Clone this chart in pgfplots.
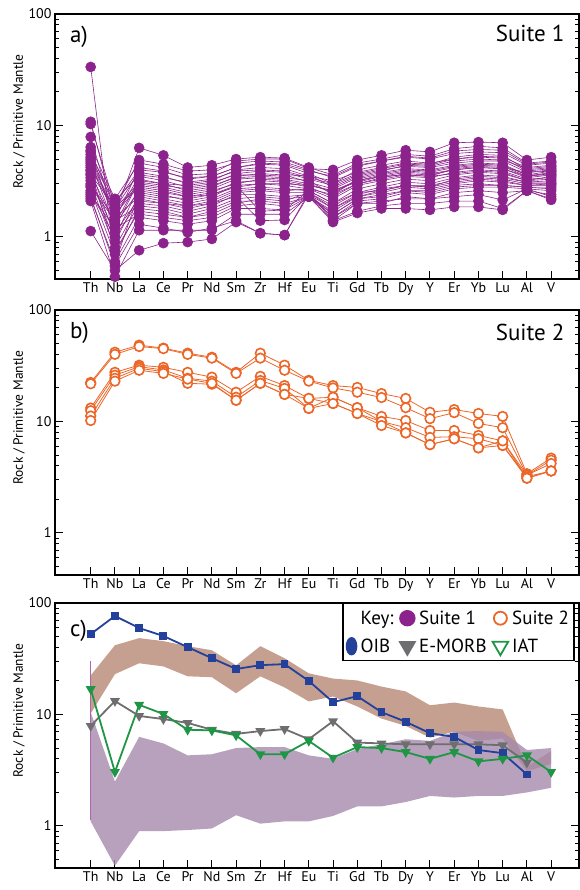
\documentclass[border=0pt]{standalone}
\usepackage{fontspec}
\setmainfont{PT Sans}
\setsansfont{PT Sans}
\usepackage{pgfplots}
\usepackage{pgfplotstable}
\pgfplotsset{compat=1.18}
\usepgfplotslibrary{fillbetween}

\definecolor{sone}{RGB}{140,35,140}
\definecolor{stwo}{RGB}{236,102,40}
\definecolor{oib}{RGB}{35,65,155}
\definecolor{emorb}{RGB}{110,110,112}
\definecolor{iat}{RGB}{30,150,70}
\definecolor{bandtwo}{RGB}{178,128,108}
\definecolor{bandone}{RGB}{165,138,172}

% Suite 1 samples, one row per sample
\pgfplotstableread{
id Th Nb La Ce Pr Nd Sm Zr Hf Eu Ti Gd Tb Dy Y Er Yb Lu Al V
s1 33.5 0.58 2.5 2.3 2.2 2.4 2.8 3.0 3.0 2.9 2.6 3.2 3.5 3.8 3.7 4.0 4.2 4.1 3.5 3.8
s2 10.8 1.6 6.3 5.4 4.2 4.4 5.0 5.2 5.1 4.2 3.6 4.6 5.0 5.5 5.3 6.2 6.5 6.3 4.6 4.8
s3 10.3 1.9 4.9 4.5 3.9 4.0 4.6 4.8 4.7 4.0 3.4 4.3 4.8 5.2 5.0 5.6 5.8 5.7 4.4 4.6
s4 7.9 1.4 4.2 3.9 3.3 3.5 4.2 4.5 4.4 3.7 3.0 4.0 4.4 4.8 4.6 5.0 5.3 5.2 4.2 4.4
s5 6.4 2.2 4.6 4.2 3.6 3.7 4.8 5.0 5.0 4.1 4.0 4.9 5.4 6.0 5.8 7.0 7.1 7.0 4.9 5.2
s6 5.8 1.8 3.8 3.5 3.0 3.2 4.0 4.2 4.1 3.5 3.2 3.8 4.2 4.6 4.5 5.2 5.5 5.4 4.0 4.2
s7 5.2 1.5 3.5 3.2 2.8 3.0 3.7 3.9 3.8 3.3 2.9 3.6 4.0 4.3 4.2 4.6 4.8 4.8 3.8 4.0
s8 4.8 1.2 3.2 3.0 2.6 2.8 3.5 3.7 3.6 3.1 2.7 3.4 3.8 4.1 4.0 4.4 4.6 4.5 3.6 3.9
s9 4.4 1.7 3.0 2.8 2.5 2.7 3.3 3.4 3.3 3.0 2.5 3.2 3.6 3.9 3.8 4.2 4.4 4.3 3.5 3.7
s10 4.0 1.0 2.8 2.6 2.3 2.5 3.1 3.2 3.1 2.8 2.3 3.0 3.4 3.7 3.6 4.0 4.2 4.1 3.4 3.6
s11 3.7 1.3 2.6 2.4 2.1 2.3 2.9 3.0 2.9 2.7 2.2 2.9 3.2 3.5 3.4 3.8 4.0 3.9 3.3 3.4
s12 3.4 0.9 2.4 2.2 2.0 2.2 2.7 2.8 2.7 2.6 2.0 2.7 3.0 3.3 3.2 3.6 3.8 3.7 3.2 3.3
s13 3.2 1.1 2.2 2.0 1.8 2.0 2.5 2.6 2.5 2.5 1.9 2.5 2.8 3.1 3.0 3.4 3.6 3.5 3.1 3.2
s14 3.0 0.8 2.0 1.9 1.7 1.9 2.4 2.4 2.3 2.4 1.8 2.4 2.7 2.9 2.9 3.2 3.4 3.3 3.0 3.0
s15 2.8 1.4 1.9 1.8 1.6 1.8 2.2 2.3 2.2 2.3 1.7 2.3 2.5 2.8 2.7 3.0 3.2 3.1 2.9 2.9
s16 2.6 0.7 1.8 1.7 1.5 1.7 2.1 2.1 2.0 2.3 1.6 2.2 2.4 2.6 2.6 2.9 3.0 2.9 2.8 2.8
s17 2.4 1.2 1.6 1.5 1.4 1.5 1.9 2.0 1.9 2.3 1.5 2.1 2.2 2.5 2.4 2.7 2.8 2.8 2.7 2.6
s18 2.2 0.6 1.5 1.4 1.3 1.4 1.8 1.8 1.75 2.3 1.4 2.0 2.0 2.3 2.2 2.5 2.6 2.5 2.6 2.4
s19 2.1 0.44 1.15 1.15 1.15 1.15 1.6 1.6 1.6 2.3 1.36 1.64 1.8 1.8 1.75 1.86 1.86 1.75 2.6 2.15
s20 1.13 0.5 0.76 0.88 0.9 0.96 1.36 1.08 1.04 2.4 1.5 2.0 2.1 2.2 2.2 2.3 2.4 2.15 2.7 2.3
s21 2.3 0.55 1.3 1.2 1.1 1.2 1.4 1.08 1.04 2.5 1.4 1.7 1.9 2.0 2.0 2.1 2.1 1.8 2.6 2.2
s22 3.6 1.9 2.7 2.5 2.3 2.4 2.9 1.7 1.75 2.6 2.0 2.5 2.6 2.9 2.8 3.1 3.3 3.2 2.9 3.0
s23 5.0 2.0 4.0 3.8 3.4 3.5 4.2 4.6 4.5 3.9 3.5 4.4 4.8 5.3 5.1 5.9 6.1 6.0 4.5 4.7
s24 6.0 1.3 3.3 3.0 2.9 3.1 3.6 3.6 3.5 3.6 2.8 3.5 3.9 4.4 4.3 4.8 5.0 4.9 4.1 4.3
s25 2.5 1.0 2.1 2.0 1.9 2.1 2.6 2.7 2.6 2.7 2.4 3.0 3.3 3.6 3.5 4.1 4.3 4.2 3.8 3.9
s26 4.2 1.6 2.9 2.7 2.4 2.6 3.0 3.3 3.2 2.9 2.6 3.1 3.5 3.6 3.5 3.7 3.9 3.8 3.2 3.5
s27 3.9 0.75 1.7 1.6 1.5 1.6 2.0 2.2 2.1 2.5 1.8 2.3 2.6 2.9 2.8 3.3 3.5 3.4 3.1 3.1
s28 2.9 1.5 2.3 2.1 1.9 2.0 2.3 1.4 1.42 2.4 1.6 2.2 2.3 2.6 2.5 2.8 2.9 2.9 2.8 2.7
s29 5.5 2.1 3.6 3.4 3.1 3.3 3.9 4.0 3.9 3.4 3.0 3.7 4.1 4.5 4.4 5.0 5.2 5.1 3.9 4.1
s30 4.6 1.8 3.1 2.9 2.7 2.9 3.4 3.5 3.4 3.2 2.4 3.3 3.7 4.0 3.9 4.3 4.5 4.4 3.6 3.6
}\suiteone
\pgfplotstabletranspose[colnames from=id]{\suiteoneT}{\suiteone}

% Suite 2 samples
\pgfplotstableread{
id Th Nb La Ce Pr Nd Sm Zr Hf Eu Ti Gd Tb Dy Y Er Yb Lu Al V
A 22.4 41.8 48.4 45.5 41 37.7 27.6 41 32 23.4 21 20.2 17.8 16.1 12.1 12.8 11.8 11.1 3.4 4.7
B 21.8 40 47 45 40 37 27 37 28.8 23 20 18.3 16.4 13.3 10.6 12 9.6 8.8 3.3 4.5
C 13.2 27.6 32 30.6 27.6 25 18.3 25.4 21 16.1 16.5 13.3 11.1 10.2 8.3 8.3 7.5 6.7 3.3 4.2
D 12.5 26 31 29 24.4 23 16.5 23.3 19.8 13.1 14.5 11.8 10.0 8.8 7.2 7.3 7.0 6.1 3.2 3.6
E 11.2 24.4 30 28 22 21.6 15.5 22 17.5 13.1 16.5 13.3 10.0 7.9 6.2 7.0 5.8 6.1 3.1 3.6
F 10.2 23 28.8 27 24 22 15.5 22 17.5 16.1 14.5 11.8 9.2 7.9 6.2 7.0 5.8 6.7 3.1 3.6
}\suitetwo
\pgfplotstabletranspose[colnames from=id]{\suitetwoT}{\suitetwo}

% panel c: reference patterns and ranges of both suites
\pgfplotstableread{
x oib emorb iat s2hi s2lo s1hi s1lo
0 52.6 7.9 16.9 22.4 10.2 10.5 1.1
1 76.5 13.2 3.05 41.8 23 2.5 0.44
2 59.6 9.7 12.2 48.4 28.8 6.3 0.9
3 50.6 9.1 10.1 45.5 27 5.5 0.9
4 40.2 8.4 7.3 41 22 4.3 0.92
5 32 7.3 7.2 37.7 21.6 4.4 0.95
6 25.6 6.7 6.5 27.6 15.5 5.0 1.25
7 27.7 7.1 4.4 41 22 5.1 1.05
8 28.3 7.4 4.4 32 17.5 5.1 1.1
9 20 6.0 5.8 23.4 13.1 4.3 1.1
10 12.9 8.7 4.1 21 14.5 4.0 1.23
11 14.6 5.6 5.1 20.2 11.8 4.9 1.5
12 10.5 5.5 5.0 17.8 9.2 5.4 1.5
13 8.6 5.4 4.6 16.1 7.9 6.0 1.64
14 6.8 5.4 4.0 12.1 6.2 5.8 1.86
15 6.3 5.4 4.6 12.8 7.0 7.0 1.8
16 4.8 5.4 3.8 11.8 5.8 7.1 1.86
17 4.5 5.3 4.0 11.1 6.1 7.0 1.86
18 2.9 3.7 4.3 3.4 3.1 4.8 2.0
19 nan nan 3.05 4.7 3.6 5.0 2.2
}\refpat

\tikzset{panel/.style={font=\fontsize{23}{27}\selectfont}}

\pgfplotsset{
  every axis/.append style={
    scale only axis, width=524pt, height=265pt,
    xmin=-1.473, xmax=20.15,
    ymin=0.42, ymax=100,
    xtick={0,...,19},
    xticklabels={Th,Nb,La,Ce,Pr,Nd,Sm,Zr,Hf,Eu,Ti,Gd,Tb,Dy,Y,Er,Yb,Lu,Al,V},
    ytick={1,10,100}, yticklabels={1,10,100},
    minor ytick={0.5,0.6,0.7,0.8,0.9,2,3,4,5,6,7,8,9,20,30,40,50,60,70,80,90},
    xtick pos=left, ytick pos=both, tick align=inside,
    major tick length=8pt, minor tick length=4pt,
    axis line style={line width=1.5pt},
    tick style={black, line width=1pt},
    ticklabel style={font=\fontsize{14}{16}\selectfont},
    ylabel={Rock / Primitive Mantle},
    every axis y label/.style={at={(rel axis cs:-0.0687,0.594)}, rotate=90,
      anchor=center, font=\fontsize{13.5}{16}\selectfont},
  },
}

\begin{document}
\begin{tikzpicture}

% a) Suite 1
\begin{semilogyaxis}[at={(55pt,611pt)}, anchor=south west]
\pgfplotsinvokeforeach{1,...,30}{
  \addplot[sone, line width=0.6pt, mark=*, mark size=5pt, mark options={solid}]
    table[x expr=\coordindex, y=s#1]{\suiteoneT};
}
\node[panel, anchor=west] at (rel axis cs:0.022,0.913) {a)};
\node[panel, anchor=east] at (rel axis cs:0.979,0.925) {Suite 1};
\end{semilogyaxis}

% b) Suite 2
\begin{semilogyaxis}[at={(55pt,315pt)}, anchor=south west]
\pgfplotsinvokeforeach{A,B,C,D,E,F}{
  \addplot[stwo, line width=0.8pt, mark=*, mark size=4.8pt,
    mark options={solid, fill=white, draw=stwo, line width=1.6pt}]
    table[x expr=\coordindex, y=#1]{\suitetwoT};
}
\node[panel, anchor=west] at (rel axis cs:0.022,0.913) {b)};
\node[panel, anchor=east] at (rel axis cs:0.979,0.917) {Suite 2};
\end{semilogyaxis}

% c) ranges and reference patterns
\begin{semilogyaxis}[at={(55pt,22pt)}, anchor=south west,
  legend columns=3,
  legend style={at={(rel axis cs:0.548,1)}, anchor=north west, draw=black,
    line width=1.4pt, font=\fontsize{19}{23}\selectfont,
    inner xsep=3pt, inner ysep=5pt, cells={anchor=west},
    /tikz/row sep=9pt,
    /tikz/every odd column/.append style={column sep=2pt},
    /tikz/every even column/.append style={column sep=4pt}},
  legend image code/.code={\draw[#1] plot coordinates {(0.2cm,0cm)};},
]
\addlegendimage{empty legend}\addlegendentry{Key:}
\addlegendimage{mark=*, mark size=7.5pt, color=sone}\addlegendentry{Suite 1}
\addlegendimage{mark=*, mark size=6.5pt, draw=stwo, fill=white, line width=1.8pt}\addlegendentry{Suite 2}
\addlegendimage{mark=*, mark size=8.5pt, mark options={xscale=0.6}, color=oib}\addlegendentry{OIB}
\addlegendimage{mark=triangle*, mark size=9pt, mark options={rotate=180}, color=emorb}\addlegendentry{E-MORB}
\addlegendimage{mark=triangle, mark size=9pt, mark options={rotate=180}, draw=iat, line width=1.8pt}\addlegendentry{IAT}

\addplot[name path=s2hi, draw=none, forget plot] table[x=x, y=s2hi]{\refpat};
\addplot[name path=s2lo, draw=none, forget plot] table[x=x, y=s2lo]{\refpat};
\addplot[name path=s1hi, draw=none, forget plot] table[x=x, y=s1hi]{\refpat};
\addplot[name path=s1lo, draw=none, forget plot] table[x=x, y=s1lo]{\refpat};
\addplot[fill=bandtwo, fill opacity=0.75, draw=none, forget plot] fill between[of=s2hi and s2lo];
\addplot[fill=bandone, fill opacity=0.8, draw=none, forget plot] fill between[of=s1hi and s1lo];
\addplot[sone!70, line width=0.8pt, forget plot] coordinates {(0,1.13) (0,30)};

\addplot[emorb, line width=1.8pt, mark=triangle*, mark size=4pt, mark options={rotate=180}, forget plot]
  table[x=x, y=emorb]{\refpat};
\addplot[oib, line width=1.8pt, mark=square*, mark size=3pt, forget plot]
  table[x=x, y=oib]{\refpat};
\addplot[iat, line width=1.8pt, mark=triangle*, mark size=4pt, mark options={rotate=180}, forget plot]
  table[x=x, y=iat]{\refpat};

\node[panel, anchor=west] at (rel axis cs:0.022,0.894) {c)};
\end{semilogyaxis}

\pgfresetboundingbox
\useasboundingbox (0,0) rectangle (579pt,890pt);
\end{tikzpicture}
\end{document}
